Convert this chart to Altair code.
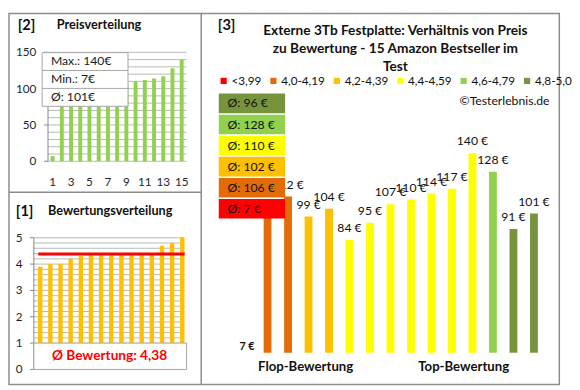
import altair as alt
import pandas as pd

# ---------------- data ----------------
ratings = [3.9, 4.0, 4.0, 4.2, 4.3, 4.4, 4.4, 4.4, 4.4, 4.4, 4.4, 4.4, 4.7, 4.8, 5.0]
prices = [7, 100, 112, 99, 104, 84, 95, 107, 110, 114, 117, 140, 128, 91, 101]
cat_labels = ["<3,99", "4,0-4,19", "4,2-4,39", "4,4-4,59", "4,6-4,79", "4,8-5,0"]
cat_lower = [0.0, 4.0, 4.2, 4.4, 4.6, 4.8]
cat_colors = ["#FF0000", "#E36C09", "#FFC000", "#FFFF00", "#92D050", "#77933C"]
price_ticks = [0, 50, 100, 150]
price_grid = list(range(0, 151, 10))
rating_ticks = [0, 1, 2, 3, 4, 5]
rating_grid = [round(i * 0.2, 1) for i in range(26)]
p2_xticks = [1, 3, 5, 7, 9, 11, 13, 15]
title3 = ["Externe 3Tb Festplatte: Verhältnis von Preis",
          "zu Bewertung - 15 Amazon Bestseller im",
          "Test"]

FONT = "Lato"
GRID = "#b8b8b8"
AXIS = "#868686"
LBL = "#1f1f2f"
BORDER = "#8c8c8c"
one = pd.DataFrame({"a": [0]})

n = len(prices)
idx = list(range(1, n + 1))
W, H = 564, 380          # whole chart (page 8..572, 8..388)
XL = 197                 # left column width
Y1 = 183                 # top of panel [1]


def S(domain, rng, **kw):
    return alt.Scale(domain=domain, range=rng, nice=False, zero=False, padding=0, **kw)


def label(text, x, y, size=13, bold=True, align="left", color="#111"):
    return alt.Chart(one).mark_text(text=text, align=align, baseline="middle", fontSize=size,
                                    fontWeight="bold" if bold else "normal", font=FONT,
                                    color=color).encode(x=alt.value(x), y=alt.value(y))


layers = []

# ---------------- frame dividers ----------------
layers.append(alt.Chart(one).mark_rule(color=BORDER, strokeWidth=1.5).encode(
    x=alt.value(XL), y=alt.value(0), y2=alt.value(H)))
layers.append(alt.Chart(one).mark_rule(color=BORDER, strokeWidth=1.5).encode(
    x=alt.value(0), x2=alt.value(XL), y=alt.value(Y1)))

# ---------------- panel 2: Preisverteilung ----------------
df2 = pd.DataFrame({"idx": idx, "price": sorted(prices)})
xs2 = S([1, 15], [44.7, 177])
ys2 = S([0, 150], [151.3, 39.7])
layers += [
    alt.Chart(pd.DataFrame({"v": price_grid})).mark_rule(color=GRID, strokeWidth=1).encode(
        y=alt.Y("v:Q", scale=ys2, axis=None), x=alt.value(40), x2=alt.value(182)),
    alt.Chart(one).mark_rule(color=AXIS, strokeWidth=1).encode(
        x=alt.value(40), y=alt.Y(datum=0, scale=ys2, axis=None), y2=alt.datum(150)),
    alt.Chart(pd.DataFrame({"v": price_ticks})).mark_rule(color=AXIS).encode(
        y=alt.Y("v:Q", scale=ys2, axis=None), x=alt.value(36), x2=alt.value(40)),
    alt.Chart(df2).mark_bar(size=4, color="#92D050", orient="vertical").encode(
        x=alt.X("idx:Q", scale=xs2, axis=None),
        y=alt.Y("price:Q", scale=ys2, axis=None), y2=alt.datum(0)),
    alt.Chart(pd.DataFrame({"v": price_ticks})).mark_text(
        align="right", baseline="middle", fontSize=12, font=FONT, color=LBL).encode(
        y=alt.Y("v:Q", scale=ys2, axis=None), x=alt.value(28), text="v:Q"),
    alt.Chart(pd.DataFrame({"i": p2_xticks})).mark_text(
        align="center", baseline="middle", fontSize=12, font=FONT, color=LBL).encode(
        x=alt.X("i:Q", scale=xs2, axis=None), y=alt.value(173), text="i:Q"),
]
pmax, pmin = max(prices), min(prices)
pmean = round(sum(prices) / n)
stats_df = pd.DataFrame({"t": [f"Max.: {pmax}€", f"Min.: {pmin}€", f"Ø: {pmean}€"],
                         "r": [0, 1, 2]})
rs2 = S([0, 3], [40, 95])
layers += [
    alt.Chart(one).mark_rect(fill="white", stroke="#a6a6a6", strokeWidth=1).encode(
        x=alt.value(34), x2=alt.value(122), y=alt.value(40), y2=alt.value(95)),
    alt.Chart(pd.DataFrame({"r": [1, 2]})).mark_rule(color="#a6a6a6").encode(
        y=alt.Y("r:Q", scale=rs2, axis=None), x=alt.value(34), x2=alt.value(122)),
    alt.Chart(stats_df).transform_calculate(rc="datum.r + 0.5").mark_text(
        align="left", baseline="middle", fontSize=12.5, font=FONT, color="#1a1a1a").encode(
        y=alt.Y("rc:Q", scale=rs2, axis=None), x=alt.value(43), text="t:N"),
    label("[2]", 9, 12, size=15),
    label("Preisverteilung", 49, 12, size=13),
]

# ---------------- panel 1: Bewertungsverteilung ----------------
df1 = pd.DataFrame({"idx": idx, "rating": sorted(ratings)})
xs1 = S([1, 15], [32, 177.6])
ys1 = S([0, 5], [Y1 + 181.7, Y1 + 46.7])
rmean = sum(ratings) / n
layers += [
    alt.Chart(pd.DataFrame({"v": rating_grid})).mark_rule(color=GRID, strokeWidth=1).encode(
        y=alt.Y("v:Q", scale=ys1, axis=None), x=alt.value(25.5), x2=alt.value(180)),
    alt.Chart(one).mark_rule(color=AXIS).encode(
        x=alt.value(25.5), y=alt.Y(datum=0, scale=ys1, axis=None), y2=alt.datum(5)),
    alt.Chart(pd.DataFrame({"v": rating_ticks})).mark_rule(color=AXIS).encode(
        y=alt.Y("v:Q", scale=ys1, axis=None), x=alt.value(21.5), x2=alt.value(25.5)),
    alt.Chart(df1).mark_bar(size=4.5, color="#FFC000", orient="vertical").encode(
        x=alt.X("idx:Q", scale=xs1, axis=None),
        y=alt.Y("rating:Q", scale=ys1, axis=None), y2=alt.datum(0)),
    alt.Chart(pd.DataFrame({"m": [rmean]})).mark_rule(color="#FF0000", strokeWidth=3).encode(
        y=alt.Y("m:Q", scale=ys1, axis=None), x=alt.value(30), x2=alt.value(180)),
    alt.Chart(pd.DataFrame({"v": rating_ticks})).mark_text(
        align="right", baseline="middle", fontSize=12, font=FONT, color=LBL).encode(
        y=alt.Y("v:Q", scale=ys1, axis=None), x=alt.value(14), text="v:Q"),
    alt.Chart(one).mark_rect(fill="white", stroke="#a6a6a6", strokeWidth=1).encode(
        x=alt.value(25.5), x2=alt.value(182),
        y=alt.Y(datum=1, scale=ys1, axis=None), y2=alt.datum(0)),
    alt.Chart(one).mark_text(
        text="Ø Bewertung: " + f"{rmean:.2f}".replace(".", ","), align="center",
        baseline="middle", fontSize=14, fontWeight="bold", font=FONT, color="#FF0000").encode(
        x=alt.value(103), y=alt.Y(datum=0.5, scale=ys1, axis=None)),
    label("[1]", 7, Y1 + 19, size=15),
    label("Bewertungsverteilung", 40, Y1 + 19, size=13),
]

# ---------------- panel 3: Preis vs Bewertung ----------------
X3 = XL


def cat_of(r):
    k = 0
    for i, lo in enumerate(cat_lower):
        if r >= lo - 1e-9:
            k = i
    return k


cats = [cat_of(r) for r in ratings]
df3 = pd.DataFrame({"idx": idx, "price": prices, "ci": cats,
                    "cat": [cat_labels[c] for c in cats]})
df3["lbl"] = df3["price"].astype(str) + " €"
YMIN = 11
xs3 = S([1, 15], [X3 + 47, X3 + 341])
ys3 = S([YMIN, 140], [347.6, 143], clamp=True)
cs3 = alt.Scale(domain=cat_labels, range=cat_colors)

layers += [
    alt.Chart(df3).mark_bar(size=8, orient="vertical").encode(
        x=alt.X("idx:Q", scale=xs3, axis=None),
        y=alt.Y("price:Q", scale=ys3, axis=None), y2=alt.datum(YMIN),
        color=alt.Color("cat:N", scale=cs3, legend=alt.Legend(
            orient="none", legendX=X3 + 17, legendY=63, direction="horizontal", title=None,
            symbolType="square", symbolSize=40, symbolStrokeWidth=0, labelFontSize=12,
            labelFont=FONT, labelColor="#111", columnPadding=6, labelOffset=2, padding=0))),
    alt.Chart(df3).transform_filter(f"datum.price >= {YMIN}").mark_text(
        align="center", baseline="middle", dy=-12, fontSize=12.5, font=FONT, color="#111").encode(
        x=alt.X("idx:Q", scale=xs3, axis=None), y=alt.Y("price:Q", scale=ys3, axis=None),
        text="lbl:N"),
    alt.Chart(df3).transform_filter(f"datum.price < {YMIN}").mark_text(
        align="center", baseline="middle", dy=-6, fontSize=11, fontWeight="bold", font=FONT,
        color="#111").encode(
        x=alt.X("idx:Q", scale=xs3, axis=None), y=alt.Y("price:Q", scale=ys3, axis=None),
        text="lbl:N"),
]

avg_df = df3.groupby(["ci", "cat"], as_index=False)["price"].mean()
avg_df["row"] = len(cat_labels) - 1 - avg_df["ci"]
avg_df["t"] = "Ø: " + avg_df["price"].round().astype(int).astype(str) + " €"
bs3 = S([0, 6], [82, 211.6])
tdf = pd.DataFrame({"t": title3, "ln": list(range(len(title3)))})
ts3 = S([0, 2], [18, 55])
layers += [
    alt.Chart(avg_df).transform_calculate(r2="datum.row + 0.93").mark_rect().encode(
        y=alt.Y("row:Q", scale=bs3, axis=None), y2="r2:Q",
        x=alt.value(X3 + 18), x2=alt.value(X3 + 86),
        color=alt.Color("cat:N", scale=cs3, legend=None)),
    alt.Chart(avg_df).transform_calculate(rc="datum.row + 0.47").mark_text(
        align="left", baseline="middle", fontSize=12.5, font=FONT, color="#111").encode(
        y=alt.Y("rc:Q", scale=bs3, axis=None), x=alt.value(X3 + 27), text="t:N"),
    label("[3]", X3 + 17, 12, size=15),
    alt.Chart(tdf).mark_text(align="center", baseline="middle", fontSize=14,
                             fontWeight="bold", font=FONT, color="#111").encode(
        y=alt.Y("ln:Q", scale=ts3, axis=None), x=alt.value(X3 + 199), text="t:N"),
    label("©Testerlebnis.de", X3 + 357, 90, size=12.5, bold=False, align="right"),
    label("Flop-Bewertung", X3 + 107, 362, size=13.5, align="center"),
    label("Top-Bewertung", X3 + 269, 362, size=13.5, align="center"),
]

chart = alt.layer(*layers).resolve_scale(
    x="independent", y="independent", color="independent"
).properties(width=W, height=H, padding=0).configure_view(stroke=BORDER, strokeWidth=1.5)

chart.save("out.html", embed_options={"renderer": "svg", "actions": False})
